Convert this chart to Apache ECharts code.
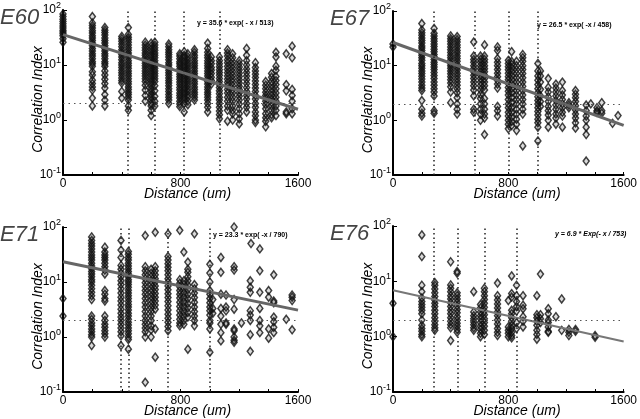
<!DOCTYPE html>
<html><head><meta charset="utf-8">
<script src="https://cdn.jsdelivr.net/npm/echarts@6/dist/echarts.min.js"></script>
<style>html,body{margin:0;padding:0;background:#fff}#c{width:640px;height:419px}</style>
</head><body><div id="c"></div>
<script>
// ---------- DATA ----------
const panelNames = ['E60', 'E67', 'E71', 'E76'];
const equations = ['y = 35.6 * exp( - x / 513)', 'y = 26.5 * exp( -x / 458)', 'y = 23.3 * exp( -x / 790)', 'y = 6.9 * Exp(- x / 753)'];
const fitStart = [35.6, 26.5, 23.3, 6.9];   // fit value at x = 0
const fitEnd = [1.57, 0.81, 3.08, 0.82];    // fit value at x = 1600
const thresholdY = 2;
const e60Lines = [440, 625, 820, 1070];
const e67Lines = [285, 565, 800, 1005];
const e71Lines = [390, 445, 715, 1000];
const e76Lines = [284, 448, 635, 858];
const xTicks = [0, 800, 1600];

const e60X = [0, 200, 285, 400, 445, 560, 600, 625, 720, 795, 825, 850, 895, 985, 1010, 1065, 1120, 1155, 1200, 1250, 1310, 1380, 1420, 1450, 1520, 1560];
const e60Y = [
  [85, 76, 68, 62, 56, 51, 47, 43, 40, 37, 34, 30, 26],
  [76, 58, 52, 47, 42, 38, 34, 31, 28, 25, 22.5, 20, 18, 16, 14.5, 13, 11.5, 10.5, 9.5, 7.5, 6.6, 5.3, 4.6, 4.0, 3.5, 2.5, 1.8],
  [48, 43, 39, 35, 31, 28, 25, 22.5, 20, 18, 16, 14.5, 13, 11.5, 10.5, 9.5, 7.8, 6.6, 5.5, 4.6, 3.8, 2.9, 2.3, 1.8],
  [33, 30, 27, 24, 21.5, 19, 17, 15.5, 14, 12.5, 11, 10, 9, 8, 7.2, 6.5, 5.8, 5.2, 4.7, 3.3, 2.5],
  [48, 36, 32, 29, 26, 23, 20.5, 18.5, 16.5, 15, 13.5, 12, 10.8, 9.7, 8.7, 7.8, 7, 6.3, 5.6, 5, 4.5, 4, 3.6, 3.2, 2.9, 2.6, 2.3, 1.8, 1.5],
  [26, 23, 20.5, 18.5, 16.5, 15, 13.5, 12, 10.8, 9.7, 8.7, 7.8, 7, 6.3, 5.6, 5, 4.3, 3.5, 2.8, 2.2],
  [25, 22, 19.5, 17.5, 15.5, 14, 12.5, 11, 10, 9, 8, 7.2, 6.5, 5.8, 5.2, 4.7, 4.2, 3.7, 3.3, 2.9, 2.6, 2.3, 2.0, 1.8, 1.5, 1.2],
  [26, 23, 20.5, 18.5, 16.5, 15, 13.5, 12, 10.8, 9.7, 8.7, 7.8, 7, 6.3, 5.6, 5, 4.2, 3.4, 2.7, 2.2, 1.8],
  [24, 21.5, 19, 17, 15.5, 14, 12.5, 11, 10, 9, 8, 7.2, 6.5, 5.8, 5.2, 4.7, 4.2, 3.7, 3.3, 2.9, 2.6, 2.3, 2.0],
  [16, 14.5, 13, 11.5, 10.5, 9.5, 8.5, 7.6, 6.8, 6.1, 5.5, 4.9, 4.4, 3.9, 3.5, 3.1, 2.8, 2.5, 2.2, 1.95, 1.75],
  [17.5, 15, 13.5, 12, 10.8, 9.7, 8.7, 7.8, 7, 6.3, 5.6, 5, 4.5, 4, 3.6, 3.2, 2.9, 2.6, 2.3, 2.0, 1.4],
  [16, 14, 12.5, 11, 10, 9, 8, 7.2, 6.5, 5.8, 5.2, 4.7, 4.2, 3.7, 3.3, 2.9, 2.6, 2.2, 1.9],
  [19, 17, 15, 13.5, 12, 10.8, 9.7, 8.7, 7.8, 7, 6.3, 5.6, 5, 4.5, 4, 3.6, 3.2, 2.9, 2.6, 2.3],
  [25, 20, 17, 15, 13.5, 12, 10.8, 9.7, 8.7, 7.8, 7, 6.3, 5.6, 5, 4.5, 4, 3.6, 3.2, 2.9, 2.6, 2.3, 2.0, 1.7, 1.4],
  [14, 12, 10.5, 9, 8, 7, 6, 5.2, 4.5],
  [14, 12, 10.5, 9.3, 8.2, 7.3, 6.5, 5.7, 5, 4.4, 3.9, 3.4, 3.0, 2.6, 2.3, 2.0, 1.7, 1.45, 1.25, 1.05],
  [19, 16.5, 14.5, 12.5, 11, 9.5, 8.3, 7.2, 6.3, 5.5, 4.8, 4.2, 3.6, 3.1, 2.6, 2.2, 1.8, 1.5, 0.95],
  [16, 13.5, 11.5, 10, 8.7, 7.5, 6.5, 5.6, 4.9, 4.2, 3.6, 3.1, 2.6, 2.2, 1.8, 1.5, 1.3, 1.0],
  [12, 10.5, 9.2, 8.1, 7.1, 6.2, 5.4, 4.7, 4.1, 3.6, 3.1, 2.7, 2.3, 1.95, 1.6, 1.3, 1.05, 0.85],
  [20, 15, 12, 10, 8.5, 7.3, 6.3, 5.4, 4.6, 3.9, 3.3, 2.8, 2.4, 2.0, 1.7, 1.4],
  [11, 9, 7.8, 6.8, 5.9, 5.1, 4.4, 3.8, 3.3, 2.8, 2.4, 2.0, 1.7, 1.4, 1.2, 1.0, 0.9],
  [5, 4.3, 3.7, 3.2, 2.8, 2.5, 2.2, 1.9, 1.6, 1.3, 1.1, 0.95, 0.75],
  [7, 6, 5, 4.3, 3.7, 3.2, 2.8, 2.4, 2.1, 1.8, 1.5, 1.25, 1.1],
  [17, 14, 9.5, 8, 6.2, 5.2, 4.4, 3.7, 3.1, 2.6, 2.2, 1.8, 1.5, 1.2],
  [16, 4.4, 3.4, 1.4, 1.3],
  [22, 13.5, 3.6, 2.8, 2.2, 1.6, 1.3]
];

const e67X = [0, 200, 285, 400, 445, 560, 607, 635, 725, 800, 823, 857, 900, 1005, 1023, 1077, 1130, 1175, 1220, 1266, 1340, 1372, 1415, 1448, 1523, 1561];
const e67Y = [
  [25, 22],
  [59, 45, 40, 36, 32, 29, 26, 23, 21, 19, 17, 15.5, 14, 12.5, 11, 10, 9, 8, 7.2, 6.4, 5.7, 5, 4.4, 3.9, 3.5, 2.3, 1.6, 1.35, 1.2],
  [48, 39, 35, 31, 28, 25, 22.5, 20, 18, 16, 14.5, 13, 11.5, 10.5, 9.5, 8.5, 7.5, 6.6, 5.8, 5, 4.4, 3.8, 3.3, 2.8, 1.5, 1.35],
  [35, 31, 28, 25, 22, 19.5, 17.5, 15.5, 14, 12.5, 11, 10, 9, 8, 7.1, 6.3, 5.5, 4.8, 4.1, 3.3, 2.1],
  [34, 30, 27, 24, 21.5, 19, 17, 15, 13.5, 12, 10.5, 9.3, 8.3, 7.3, 6.5, 5.7, 5, 4.4, 3.8, 3.2, 2.6, 2.0, 1.6, 1.3],
  [27, 15, 13, 11.5, 10, 8.8, 7.7, 6.7, 5.8, 5, 4.3, 3.6, 2.8, 1.6, 1.4],
  [15, 13, 11.5, 10, 8.8, 7.7, 6.7, 5.8, 5, 4.3, 3.6, 3.0, 2.5, 2.0, 1.6, 1.3, 1.0],
  [24, 15, 13, 11.5, 10, 8.8, 7.7, 6.7, 5.8, 5, 4.3, 3.6, 2.5, 2.0, 1.6, 1.3, 1.1, 0.55],
  [22, 19, 13.5, 11.5, 10, 8.5, 7.3, 6.3, 5.4, 4.6, 3.9, 1.8, 1.5, 1.2],
  [12.5, 11, 9.6, 8.4, 7.3, 6.3, 5.5, 4.7, 4.0, 3.4, 2.9, 2.4, 2.0, 1.7, 1.4, 1.2, 1.0, 0.85, 0.7],
  [18, 12, 10.5, 9, 7.7, 6.5, 5.5, 4.6, 3.8, 3.2, 2.6, 2.1, 1.7, 1.4, 1.15, 0.95, 0.8],
  [12, 10, 8.5, 7.2, 6, 5, 4.2, 3.5, 2.9, 2.4, 2.0, 1.6, 1.3, 1.05, 0.85, 0.65],
  [16, 14, 12, 10, 8.5, 7.2, 6, 5, 4.2, 3.5, 2.9, 2.4, 2.0, 1.6, 1.3, 0.34],
  [11, 8, 6.5, 5.4, 4.5, 3.8, 3.2, 2.7, 2.3, 2.0, 1.7, 1.45, 1.25, 1.05, 0.9, 0.75, 0.42],
  [8, 6.5, 5, 3.7, 2.8, 2.2, 1.8],
  [5.8, 4, 3.3, 2.7, 2.2, 1.8, 1.5, 1.25, 1.0, 0.75],
  [4.6, 3.9, 3.3, 2.8, 2.3, 1.9, 1.6, 1.3, 1.1, 0.85],
  [5, 3.5, 2.9, 2.4, 2.0, 1.7, 1.4, 1.2, 0.75],
  [2.1, 1.9, 1.7],
  [3.5, 3.0, 2.6, 2.2, 1.85, 1.55, 1.3, 1.1, 0.9, 0.72],
  [1.9, 1.5, 1.2, 1.0, 0.75, 0.55, 0.18],
  [2.0],
  [1.7, 1.5, 1.4],
  [2.1, 1.5, 1.35],
  [0.88],
  [1.22]
];

const e71X = [0, 195, 285, 395, 445, 560, 600, 628, 715, 795, 823, 850, 895, 1000, 1020, 1075, 1110, 1165, 1215, 1275, 1280, 1340, 1400, 1435, 1520, 1560];
const e71Y = [
  [5.0, 2.4],
  [66, 57, 50, 45, 40, 35, 31, 28, 25, 22, 19.5, 17.5, 15.5, 14, 12.5, 11, 10, 8.7, 7.5, 6.5, 5.6, 4.8, 2.4, 2.1, 1.8, 1.6, 1.4, 1.25, 1.1, 1.0, 0.7],
  [43, 35, 31, 28, 25, 22, 19, 16.5, 14, 7, 6, 5, 4.5, 2.4, 2.0, 1.7, 1.5, 1.3, 1.15, 1.0],
  [57, 38, 28, 20, 17, 14.5, 12.5, 10.5, 9, 7.5, 6.3, 5.3, 4.5, 3.8, 3.2, 2.7, 2.3, 2.0, 1.7, 1.45, 1.25, 1.05, 0.7],
  [36, 32, 28, 25, 22, 19.5, 17.5, 15.5, 14, 12.5, 11, 10, 9, 8, 7.1, 6.3, 5.6, 5, 4.4, 3.9, 3.5, 3.1, 2.7, 2.4, 2.1, 1.85, 1.65, 1.45, 1.3, 1.15, 1.0, 0.9, 0.6],
  [70, 19, 16, 13.5, 11.5, 9.7, 8.2, 7, 6, 5, 4.2, 3.5, 2.9, 2.4, 2.0, 1.7, 1.45, 1.25, 1.0, 0.15],
  [17, 14.5, 12.5, 10.5, 9, 7.6, 6.5, 5.5, 4.7, 4.0, 3.4, 2.9, 2.4, 2.0, 1.6, 1.35, 1.0],
  [80, 19, 16, 13.5, 11.5, 10, 8.5, 7.3, 6.2, 5.3, 4.5, 3.8, 3.2, 1.4, 0.43],
  [75, 29, 25, 21.5, 18.5, 16, 13.5, 11.5, 10, 8.5, 7.2, 6.1, 5.2, 4.4, 3.7, 3.1, 2.6, 2.2, 1.85, 1.55, 1.3],
  [87, 11, 9.5, 8.2, 7, 6, 5.1, 4.3, 3.6, 3.0, 2.5, 2.1, 1.8, 1.6],
  [35, 10.5, 9, 7.5, 6.3, 5.2, 4.3, 3.5, 2.9, 2.4, 2.0, 1.7],
  [23, 17, 15, 12.5, 10.5, 8.8, 7.3, 6, 5, 4.1, 3.4, 2.8, 2.3, 0.6],
  [75, 9, 7.5, 6.3, 5.2, 4.3, 3.5, 2.9, 2.4, 2.0, 1.6],
  [21, 14.5, 10, 7, 6, 5, 4.2, 3.5, 3, 2.5, 2.0, 1.8, 1.4, 0.53],
  [4.8, 3.3, 2.7],
  [28, 15, 6, 3.3, 2.4, 1.7, 1.2, 0.85],
  [5.8, 3.5, 3.0, 1.8, 1.7],
  [100, 19, 16.5, 4.8, 3.2, 1.4, 1.3, 1.0, 0.87, 0.8],
  [1.8],
  [10.5, 8, 6.5, 3.0, 2.5, 2.0, 1.1, 0.55],
  [50],
  [40, 16, 6.5, 3.3, 2.0, 1.6, 1.2],
  [7, 5.3, 1.4, 0.95],
  [13.5, 4.5, 4.2, 2.3, 1.9, 1.5, 1.2],
  [2.1],
  [5.8, 5.3, 4.6, 1.35]
];

const e76X = [0, 200, 290, 400, 445, 560, 607, 634, 725, 800, 823, 857, 902, 998, 1023, 1077, 1130, 1170, 1220, 1266, 1402];
const e76Y = [
  [4.0, 1.0],
  [69, 28, 8.5, 6.5, 5, 4.3, 3.8, 3.4, 3.0, 2.6, 2.0, 1.6, 1.4, 1.25, 1.1, 1.0],
  [9.5, 8.5, 7.3, 6.2, 5.3, 4.6, 4, 3.5, 3.0, 2.6, 2.2, 1.9, 1.65, 1.45, 1.3],
  [22.6, 8.6, 7.5, 6.5, 5.5, 4.8, 4.1, 3.5, 3.0, 2.6, 2.2, 1.9, 1.65, 1.45, 0.85],
  [15, 14, 6.2, 5.5, 4.8, 4.2, 3.6, 3.1, 2.7, 2.3, 2.0, 1.75, 1.55, 1.35, 1.2],
  [6.5, 2.8, 2.4, 2.1, 1.85, 1.65, 1.45, 1.3],
  [3.8, 3.3, 2.8, 2.4, 2.1, 1.8, 1.55, 1.35, 1.15, 1.0],
  [7.5, 6.5, 5.5, 4.7, 4, 3.4, 2.9, 2.5, 2.1, 1.8, 1.55, 1.3, 1.1],
  [9.3, 5.5, 4.6, 3.9, 3.3, 2.8, 2.4, 2.0, 1.7, 1.4, 1.2, 1.05],
  [4.5, 1.5, 1.3, 1.15, 1.0],
  [12.5, 6, 5.2, 3, 2.6, 2.2, 1.9, 1.6, 1.4, 1.2, 1.05, 0.95],
  [8.5, 5.5, 4.3, 3.5, 2.9, 1.8, 1.4],
  [5.5, 3.7, 3.2, 2.3, 1.9, 1.5],
  [5.5, 2.5, 2.2, 1.9, 1.6, 1.3, 1.1, 0.9],
  [13.5, 2.5, 2.1, 1.8],
  [3.2, 2.6, 2.0, 1.8, 1.5, 1.25, 1.2],
  [2.3],
  [4.8, 1.3],
  [1.35, 1.2, 1.05],
  [1.35, 1.25],
  [1.05, 0.98]
];

// ---------- BUILD ----------
const allX = [e60X, e67X, e71X, e76X];
const allY = [e60Y, e67Y, e71Y, e76Y];
const allLines = [e60Lines, e67Lines, e71Lines, e76Lines];
const grids = [
  {left: 63, top: 10, width: 235, height: 165},
  {left: 393, top: 11, width: 234, height: 164},
  {left: 63, top: 227, width: 235, height: 165},
  {left: 393, top: 226, width: 234, height: 166}
];
const FONT = 'Liberation Sans, Arial, sans-serif';

const option = {
  animation: false,
  backgroundColor: '#fff',
  grid: grids.map(g => Object.assign({containLabel: false}, g)),
  xAxis: grids.map((g, i) => ({
    gridIndex: i, type: 'value', min: 0, max: 1600, interval: 200,
    axisLine: {show: true, onZero: false, lineStyle: {color: '#000', width: 2}},
    axisTick: {show: true, inside: true, length: 3, lineStyle: {color: '#000', width: 1}},
    axisLabel: {interval: 3, color: '#000', fontSize: 12, fontFamily: FONT, margin: 3,
      formatter: v => (xTicks.indexOf(v) >= 0 ? String(v) : '')},
    splitLine: {show: false}
  })),
  yAxis: grids.map((g, i) => ({
    gridIndex: i, type: 'log', logBase: 10, min: 0.1, max: 100,
    axisLine: {show: true, lineStyle: {color: '#000', width: 2}},
    axisTick: {show: true, inside: true, length: 4, lineStyle: {color: '#000', width: 1}},
    axisLabel: {color: '#000', fontFamily: FONT, margin: 2,
      formatter: v => '{b|10}{s|' + Math.round(Math.log10(v)) + '}',
      rich: {b: {fontSize: 12, fontFamily: FONT, color: '#000'},
             s: {fontSize: 9, fontFamily: FONT, color: '#000', padding: [0, 0, 9, 0]}}},
    splitLine: {show: false}
  })),
  series: [],
  graphic: []
};

for (let i = 0; i < 4; i++) {
  const pts = [];
  allX[i].forEach((x, k) => allY[i][k].forEach(y => pts.push([x, y])));
  const ml = allLines[i].map(v => ({xAxis: v, lineStyle: {color: '#222', width: 1.5, type: [1.5, 3]}}));
  ml.push({yAxis: thresholdY, lineStyle: {color: '#555', width: 1.2, type: [1.5, 4]}});
  option.series.push({
    type: 'scatter', xAxisIndex: i, yAxisIndex: i, data: pts,
    symbol: 'diamond', symbolSize: [6, 8],
    itemStyle: {color: 'rgba(0,0,0,0.18)', borderColor: '#111', borderWidth: 1.5},
    markLine: {silent: true, symbol: 'none', label: {show: false}, data: ml},
    z: 3
  });
  option.series.push({
    type: 'line', xAxisIndex: i, yAxisIndex: i,
    data: [[0, fitStart[i]], [1600, fitEnd[i]]],
    symbol: 'none', lineStyle: {color: i === 3 ? '#777' : '#666', width: i === 3 ? 2 : 3},
    z: 4
  });
  const g = grids[i];
  option.graphic.push({
    type: 'text', left: g.left - 63, top: g.top - 3,
    style: {text: panelNames[i], font: 'italic 22px ' + FONT, fill: '#444'}
  });
  option.graphic.push({
    type: 'text', x: g.left + g.width / 2 + 7, y: g.top + g.height + 19,
    style: {text: 'Distance (um)', font: 'italic 14px ' + FONT, fill: '#000', align: 'center', verticalAlign: 'middle'}
  });
  option.graphic.push({
    type: 'text', x: g.left - 25, y: g.top + g.height / 2 + 7, rotation: Math.PI / 2,
    style: {text: 'Correlation Index', font: 'italic 14px ' + FONT, fill: '#000', align: 'center', verticalAlign: 'middle'}
  });
  const eqPos = [[197, 23], [537, 25], [213, 235], [555, 234]][i];
  option.graphic.push({
    type: 'text', x: eqPos[0], y: eqPos[1],
    style: {text: equations[i], font: (i === 3 ? 'italic ' : '') + 'bold 7px ' + FONT, fill: '#000', verticalAlign: 'middle'}
  });
}

const chart = echarts.init(document.getElementById('c'), null, {renderer: 'canvas'});
chart.setOption(option);
</script>
</body></html>
